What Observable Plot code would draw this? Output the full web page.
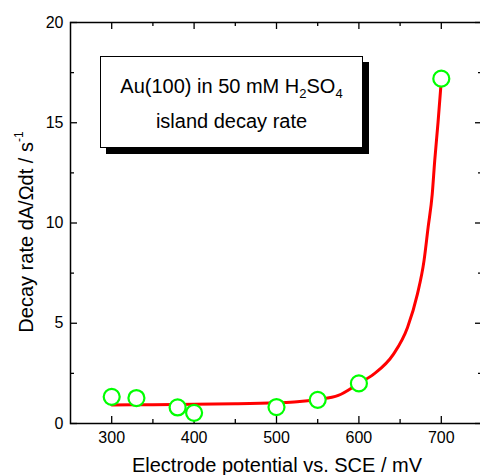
<!DOCTYPE html>
<html><head><meta charset="utf-8">
<script src="https://cdn.jsdelivr.net/npm/d3@7"></script>
<script src="https://cdn.jsdelivr.net/npm/@observablehq/plot@0.6"></script>
<style>
html,body{margin:0;padding:0;background:#fff;overflow:hidden}
#wrap{position:relative;width:480px;height:475px;font-family:"Liberation Sans",Arial,sans-serif}
#box{position:absolute;left:100px;top:56px;width:263px;height:92px;border:1px solid #000;background:#fff;box-shadow:6px 6px 0 #000;text-align:center;font-size:20px;line-height:35px;color:#000;box-sizing:border-box;padding-top:12px}
#box sub{font-size:13px;vertical-align:-5px;line-height:0}
</style></head><body><div id="wrap"></div>
<script>
// measured data points
const potentials = [300, 330, 380, 400, 500, 550, 600, 700];
const decayRates = [1.33, 1.27, 0.80, 0.53, 0.82, 1.18, 2.00, 17.2];
// fitted curve
const fitPotentials = [300, 350, 400, 450, 500, 525, 550, 575, 600, 618, 642, 659, 671, 679, 684, 689, 692, 696, 700];
const fitRates = [0.92, 0.94, 0.96, 0.98, 1.03, 1.08, 1.20, 1.40, 2.00, 2.46, 3.46, 4.79, 6.45, 8.11, 9.78, 11.44, 13.1, 15.0, 17.1];
// ticks
const xMajorTicks = [300, 400, 500, 600, 700];
const xMinorTicks = [350, 450, 550, 650];
const yMajorTicks = [0, 5, 10, 15, 20];
const yMinorTicks = [2.5, 7.5, 12.5, 17.5];
const xTitle = "Electrode potential vs. SCE / mV";
const yTitle = "Decay rate dA/\u03A9dt / s";
const yTitleSup = "-1";

const points = potentials.map((p, i) => ({p, r: decayRates[i]}));
const fit = fitPotentials.map((p, i) => ({p, r: fitRates[i]}));

const W = 480, H = 475, mL = 70, mR = -2, mT = 22, mB = 52;
const fh = H - mT - mB, fw = W - mL - mR;
const font = '"Liberation Sans", Arial, sans-serif';
const tickStyle = {stroke: "#000", strokeWidth: 1.3};

const chart = Plot.plot({
  width: W, height: H,
  marginLeft: mL, marginRight: mR, marginTop: mT, marginBottom: mB,
  style: {fontFamily: font, fontSize: "16px", color: "#000", background: "#fff"},
  x: {domain: [250, 750]},
  y: {domain: [0, 20]},
  marks: [
    Plot.axisX({ticks: xMajorTicks, tickSize: 0, tickPadding: 8, label: null, fontSize: 16}),
    Plot.axisY({ticks: yMajorTicks, tickSize: 0, tickPadding: 7, label: null, fontSize: 16}),
    Plot.tickX(xMajorTicks, {...tickStyle, insetTop: fh - 7}),
    Plot.tickX(xMinorTicks, {...tickStyle, insetTop: fh - 4}),
    Plot.tickX(xMajorTicks, {...tickStyle, insetBottom: fh - 7}),
    Plot.tickX(xMinorTicks, {...tickStyle, insetBottom: fh - 4}),
    Plot.tickY(yMajorTicks, {...tickStyle, insetRight: fw - 7}),
    Plot.tickY(yMinorTicks, {...tickStyle, insetRight: fw - 4}),
    Plot.tickY(yMajorTicks, {...tickStyle, insetLeft: fw - 7}),
    Plot.tickY(yMinorTicks, {...tickStyle, insetLeft: fw - 4}),
    Plot.frame({stroke: "#000", strokeWidth: 1.5}),
    Plot.line(fit, {x: "p", y: "r", stroke: "#ff0000", strokeWidth: 3, curve: "monotone-x"}),
    Plot.dot(points, {x: "p", y: "r", r: 8, stroke: "#00ff00", strokeWidth: 2.2, fill: "#fff"})
  ]
});

const svg = d3.select(chart);
svg.append("text")
  .attr("x", 277).attr("y", 471.5)
  .attr("text-anchor", "middle")
  .attr("font-size", 20).attr("font-family", font).attr("fill", "#000")
  .text(xTitle);
const yt = svg.append("text")
  .attr("transform", "translate(33,232) rotate(-90)")
  .attr("text-anchor", "middle")
  .attr("font-size", 20).attr("font-family", font).attr("fill", "#000");
yt.append("tspan").text(yTitle);
yt.append("tspan").attr("font-size", 12).attr("dy", -10).text(yTitleSup);

const wrap = document.getElementById("wrap");
wrap.appendChild(chart);
const box = document.createElement("div");
box.id = "box";
box.innerHTML = 'Au(100) in 50 mM H<sub>2</sub>SO<sub>4</sub><br>island decay rate';
wrap.appendChild(box);
</script>
</body></html>
